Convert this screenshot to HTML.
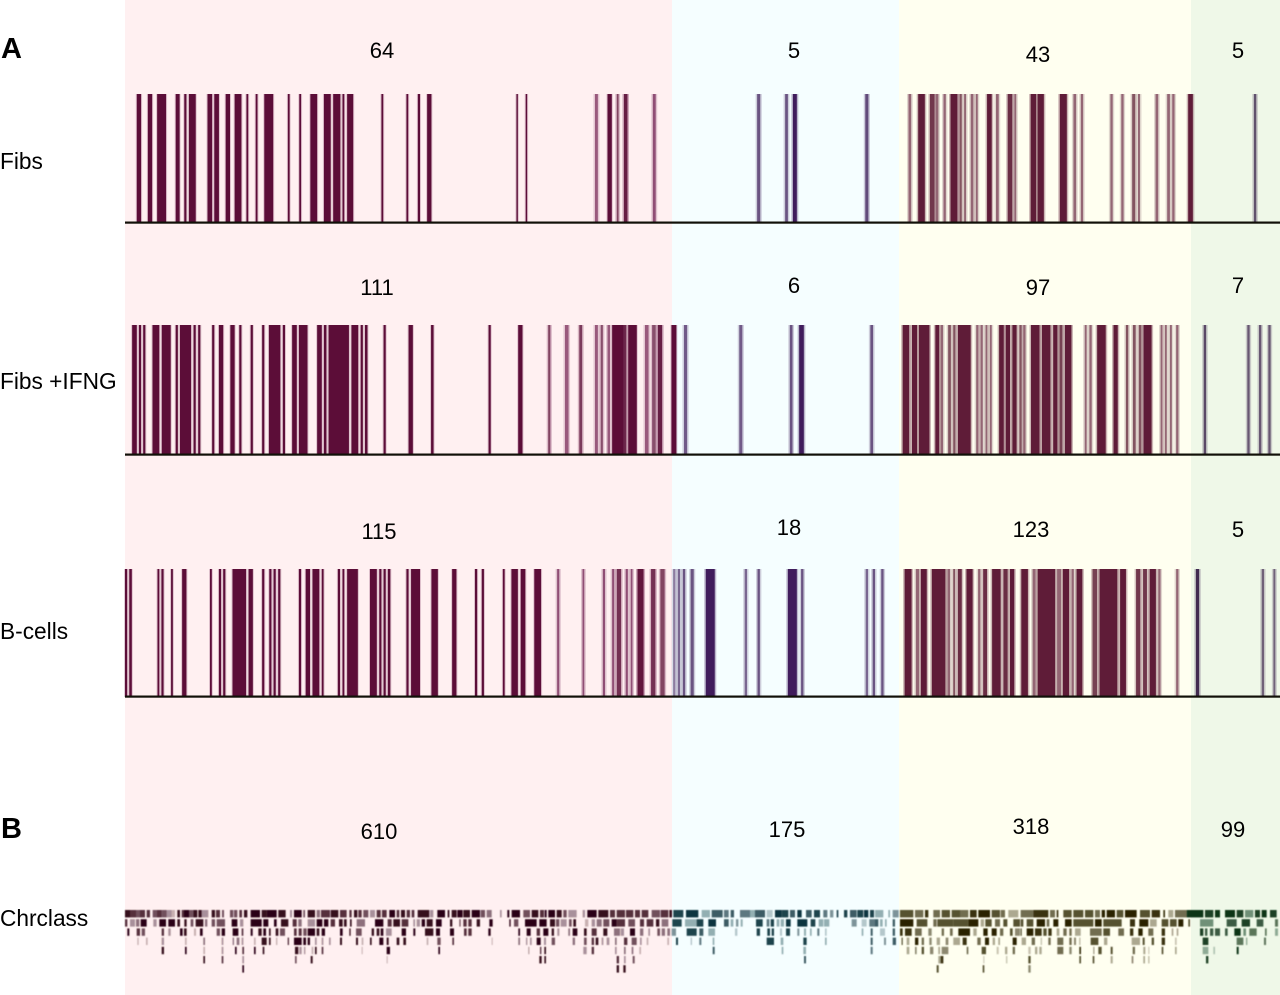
<!DOCTYPE html>
<html lang="en">
<head>
<meta charset="utf-8">
<title>Barcode tracks and chromosome class heat strip</title>
<style>
html,body{margin:0;padding:0;background:#fff;width:1280px;height:995px;overflow:hidden}
svg{display:block;font-family:"Liberation Sans",sans-serif;fill:#000}
.lab{font-size:22.7px}
.num{font-size:22px;text-anchor:middle}
.pan{font-size:29px;font-weight:bold}
</style>
</head>
<body>
<svg id="chart" xmlns="http://www.w3.org/2000/svg" width="1280" height="995" viewBox="0 0 1280 995">
  <defs>
    <filter id="soft" x="-2%" y="-2%" width="104%" height="104%"><feGaussianBlur stdDeviation="0.25 0"/></filter>
    <filter id="softer" x="-2%" y="-5%" width="104%" height="110%"><feGaussianBlur stdDeviation="0.55 0.4"/></filter>
  </defs>
  <g>
    <rect x="125" y="0" width="547" height="995" fill="#fff0f1"/>
    <rect x="672" y="0" width="227" height="995" fill="#f5feff"/>
    <rect x="899" y="0" width="292" height="995" fill="#fffff0"/>
    <rect x="1191" y="0" width="89" height="995" fill="#eff8e8"/>
  </g>
  <g id="tracks" filter="url(#soft)"></g>
  <g id="axes"></g>
  <g id="heat" filter="url(#softer)"></g>

  <text class="pan" x="1" y="58">A</text>
  <text class="pan" x="1" y="838">B</text>
  <text class="lab" x="0" y="169">Fibs</text>
  <text class="lab" x="0" y="389">Fibs +IFNG</text>
  <text class="lab" x="0" y="639">B-cells</text>
  <text class="lab" x="0" y="926">Chrclass</text>

  <g>
    <text class="num" x="382" y="58">64</text>
    <text class="num" x="794" y="58">5</text>
    <text class="num" x="1038" y="62">43</text>
    <text class="num" x="1238" y="58">5</text>
    <text class="num" x="377" y="295">111</text>
    <text class="num" x="794" y="293">6</text>
    <text class="num" x="1038" y="295">97</text>
    <text class="num" x="1238" y="293">7</text>
    <text class="num" x="379" y="539">115</text>
    <text class="num" x="789" y="535">18</text>
    <text class="num" x="1031" y="537">123</text>
    <text class="num" x="1238" y="537">5</text>
    <text class="num" x="379" y="839">610</text>
    <text class="num" x="787" y="837">175</text>
    <text class="num" x="1031" y="834">318</text>
    <text class="num" x="1233" y="837">99</text>
  </g>
</svg>
<script>
// Barcode values: [start, end, intensity?] along two chromosome-axis segments.
const fibsLeft = [[47,59],[78,90],[104,129],[156,167],[180,186],[193,212],[245,258],[264,277],[296,308],[321,340],[354,359],[380,385],[404,429],[470,475],[502,507],[533,552],[571,590],[597,617],[623,628],[636,653],[732,737],[802,807],[834,840],[860,872],[1110,1114],[1136,1140],[1330,1338,.55],[1365,1377],[1391,1396,.7],[1411,1421,.9],[1492,1500,.6]];
const fibsRight = [[224,232,.7],[296,303,.7],[316,326,1],[502,510,.75],[613,620,.6],[638,655],[668,680,.85],[683,690,.6],[703,709,.6],[721,739],[744,750,.7],[756,761,.6],[773,780,.6],[786,791,.6],[815,827],[838,845,.6],[868,880,.9],[885,890,.6],[927,941],[945,961],[1002,1020],[1037,1044,.6],[1056,1062,.6],[1132,1138,.6],[1160,1166,.6],[1188,1196,.7],[1203,1208,.6],[1248,1255,.6],[1278,1285,.6],[1291,1297,.6],[1332,1344],[1501,1507,.75]];
const ifngLeft = [[34,47],[53,59],[65,71],[91,110],[117,142],[156,162],[168,199],[206,212],[219,225],[258,264],[277,289],[309,321],[334,340],[366,372],[398,404],[417,449],[456,462],[482,495],[501,525],[552,565],[571,578],[584,641],[648,667],[674,680],[686,693],[738,744],[808,820],[871,878],[1032,1038],[1115,1127],[1199,1205,.7],[1246,1256,.55],[1286,1294,.75],[1330,1338,.55],[1346,1352,.65],[1365,1372,.55],[1378,1410],[1410,1418,.85],[1423,1447],[1470,1480,.55],[1490,1500,.65],[1506,1518,.9],[1544,1558]];
const ifngRight = [[36,44,.65],[178,186,.65],[308,315,.7],[332,344,1],[515,522,.7],[598,615],[622,635],[640,667],[682,692],[696,702,.6],[715,722,.7],[728,734,.7],[740,773],[787,793,.6],[798,804,.6],[811,816,.6],[822,827,.6],[846,858],[863,874],[880,891],[898,904,.7],[908,914,.6],[928,950],[956,978],[985,996],[1001,1009,.8],[1015,1032],[1066,1071,.6],[1078,1084,.6],[1098,1120],[1140,1151],[1172,1178,.7],[1190,1197,.7],[1205,1212,.7],[1217,1238],[1261,1266,.6],[1272,1277,.6],[1285,1290,.6],[1301,1307,.6],[1372,1378,.8],[1484,1490,.7],[1514,1520,.7],[1538,1544,.7]];
const bcellsLeft = [[14,20],[26,33],[105,110],[116,122],[143,148],[174,186],[252,257],[277,283],[289,295],[315,353],[360,372],[398,404],[418,424],[430,436],[443,449],[501,507],[520,532],[539,558],[565,570],[610,616],[623,628],[636,666],[700,719],[726,732],[738,744],[750,757],[802,808],[815,840],[872,890],[930,942],[994,1000],[1013,1019],[1072,1077],[1096,1114],[1122,1135],[1160,1179],[1224,1230,.6],[1295,1300,.6],[1352,1358,.6],[1378,1384,.6],[1391,1403,.8],[1416,1422,.6],[1430,1435,.6],[1449,1466,.95],[1487,1499,.8],[1513,1525,.7]];
const bcellsRight = [[8,14,.5],[20,26,.6],[33,39,.7],[53,61,.7],[92,115],[192,198,.6],[225,231,.7],[303,326],[337,343,.7],[503,509,.6],[521,527,.7],[543,549,.7],[603,621],[632,640,.6],[645,660],[673,708],[713,720,.6],[728,733,.7],[740,750,.9],[762,778],[792,798,.6],[805,815,.9],[828,850],[857,868,.9],[874,885],[903,920],[932,940,.6],[945,990],[995,1005,.6],[1010,1026],[1032,1038,.6],[1045,1060],[1086,1098,.8],[1104,1150],[1157,1172],[1198,1209,.85],[1216,1226,.85],[1233,1249],[1255,1261,.6],[1301,1307,.6],[1352,1360],[1521,1527,.65],[1551,1556,.65]];

// Heat strip values: for each of four windows, seven rows of [start, end, level 1-9].
const heatWindowA = [
 [[15,30,7],[30,48,6],[48,60,5],[60,75,6],[80,90,6],[98,110,5],[110,125,6],[125,140,5],[140,155,3],[155,165,2],[172,180,7],[185,192,6],[192,207,8],[207,220,5],[220,232,7],[235,245,7],[245,265,3],[275,285,7],[288,300,6],[306,312,5],[330,340,5],[342,352,5],[358,366,6],[372,382,7],[392,420,9],[425,440,7],[440,470,8],[475,497,7],[510,516,3],[522,545,8],[550,555,5],[563,585,7],[590,600,4],[603,630,6],[632,655,7],[660,680,6],[688,695,6],[702,712,7],[715,725,6],[730,745,5],[750,765,3],[770,782,6],[786,800,6],[808,825,8],[830,838,6],[843,855,7],[860,870,6],[875,883,6],[893,900,7]],
 [[15,22,6],[30,45,3],[48,58,4],[62,80,8],[100,110,3],[118,138,9],[145,165,8],[172,180,7],[193,200,7],[212,220,5],[227,250,7],[255,262,4],[275,285,5],[290,315,5],[335,352,8],[360,370,3],[392,425,9],[430,445,8],[462,470,8],[483,505,7],[518,530,6],[535,545,4],[563,585,3],[590,607,8],[612,625,9],[632,645,6],[657,668,7],[672,680,7],[690,695,7],[710,735,4],[765,790,9],[803,815,6],[820,840,7],[845,865,6],[880,885,3],[890,900,3]],
 [[22,28,8],[50,60,6],[65,75,5],[125,132,6],[145,152,3],[180,188,8],[192,200,7],[222,228,2],[240,248,8],[290,300,5],[305,315,8],[338,355,8],[365,370,6],[392,398,8],[415,425,7],[430,438,8],[447,452,7],[467,475,7],[480,495,5],[522,530,6],[536,545,6],[550,560,5],[563,585,8],[590,598,7],[605,615,8],[660,668,8],[688,692,7],[708,725,5],[755,762,7],[770,778,7],[782,790,8],[798,815,3],[845,858,8],[880,886,8]],
 [[52,56,2],[78,83,2],[125,132,3],[195,200,2],[250,255,4],[305,310,3],[338,342,4],[350,358,4],[365,370,3],[402,407,2],[425,440,7],[447,452,7],[468,472,2],[503,507,6],[522,545,9],[550,558,8],[563,570,8],[585,590,3],[605,610,3],[627,632,3],[660,666,7],[708,714,7],[725,730,2],[750,755,7],[778,790,8],[800,806,7],[830,838,7],[850,858,7]],
 [[125,132,7],[195,200,8],[250,255,2],[305,310,3],[345,350,8],[367,372,6],[402,407,8],[428,433,7],[525,535,7],[538,545,3],[552,556,3],[575,580,2],[585,590,7],[605,610,6],[725,728,2],[800,810,9]],
 [[250,255,7],[305,310,6],[367,372,3],[525,530,5],[572,578,7],[800,803,2]],
 [[367,372,9]]
];
const heatWindowB = [
 [[0,15,7],[15,28,7],[30,40,3],[52,75,9],[83,88,8],[95,110,7],[112,128,8],[130,150,7],[155,180,8],[182,195,5],[200,215,4],[240,245,3],[262,268,8],[275,300,9],[310,330,5],[335,355,7],[360,372,6],[374,380,8],[385,405,8],[410,425,7],[430,440,5],[445,470,3],[488,495,3],[502,530,8],[535,565,7],[570,585,6],[590,615,6],[618,640,6],[645,660,6],[665,685,6],[695,720,5],[722,745,6],[748,756,7],[760,790,7],[798,835,8],[845,870,3],[875,900,6]],
 [[5,15,8],[20,38,7],[48,65,8],[90,97,7],[118,122,5],[130,140,6],[145,155,6],[170,180,7],[208,218,8],[268,272,8],[282,295,5],[315,330,8],[330,350,9],[358,380,9],[390,405,7],[408,418,5],[422,440,3],[447,455,5],[460,468,7],[495,505,2],[515,525,3],[530,545,4],[550,568,5],[575,590,8],[590,615,6],[625,645,5],[660,672,6],[680,700,6],[708,718,7],[725,745,4],[757,785,7],[795,830,3],[830,850,7],[865,888,8]],
 [[15,40,7],[48,60,9],[90,102,8],[132,140,6],[145,155,6],[205,212,9],[295,300,8],[320,332,8],[350,360,6],[370,385,9],[395,402,7],[412,418,3],[445,450,4],[458,472,8],[492,500,7],[515,530,6],[550,562,7],[582,600,4],[602,612,3],[630,645,8],[660,670,4],[685,690,3],[712,720,5],[725,735,4],[742,750,4],[755,768,4],[800,830,7],[838,850,6],[865,885,3]],
 [[20,25,2],[52,62,5],[97,102,6],[215,218,2],[295,300,4],[318,322,3],[330,335,3],[350,362,9],[372,378,3],[395,405,5],[458,465,4],[492,500,5],[515,522,6],[527,535,7],[545,550,3],[560,568,3],[585,590,4],[612,622,6],[635,650,5],[660,665,3],[680,685,2],[742,747,2],[768,774,7],[812,816,2],[838,844,5],[878,883,3]],
 [[55,60,9],[325,328,3],[360,364,6],[373,378,7],[490,500,3],[515,522,6],[585,590,3],[612,617,4],[635,640,4],[658,663,2],[878,884,6]],
 [[358,365,7],[373,378,7],[590,597,6],[612,617,3],[638,644,5]],
 [[590,597,7],[610,617,7]]
];
const heatWindowC = [
 [[0,8,6],[12,26,5],[32,42,6],[60,90,5],[90,105,3],[105,135,6],[140,158,2],[165,185,8],[185,205,7],[210,225,6],[232,245,8],[258,275,6],[282,300,7],[310,322,5],[330,340,4],[350,355,7],[372,382,7],[390,410,6],[412,430,7],[432,445,8],[450,462,7],[465,490,3],[505,510,3],[518,536,4],[540,580,6],[585,610,5],[615,625,7],[640,660,5],[665,690,6],[695,720,6],[720,745,5],[750,770,7],[775,810,8],[815,840,6],[842,855,5],[865,895,3]],
 [[12,26,6],[32,40,3],[48,55,4],[62,68,3],[108,128,7],[140,148,5],[152,162,7],[170,178,3],[182,192,3],[198,212,8],[232,262,9],[272,286,7],[296,310,3],[312,328,3],[395,410,4],[425,440,2],[448,465,5],[465,475,6],[480,488,3],[495,500,3],[518,525,6],[540,580,8],[590,622,6],[640,650,5],[652,700,6],[700,745,6],[745,775,9],[782,792,3],[796,815,6],[825,840,5],[850,862,6],[880,900,6]],
 [[45,52,2],[110,120,7],[142,150,7],[155,162,7],[180,186,2],[198,210,7],[232,238,4],[252,258,3],[270,275,3],[292,298,5],[315,320,2],[425,430,3],[452,458,6],[480,495,2],[518,525,6],[540,548,7],[555,575,7],[585,605,5],[625,635,4],[665,672,5],[690,698,5],[715,750,8],[760,770,3],[790,803,8],[815,830,8],[840,850,5],[870,878,6],[885,900,4]],
 [[140,162,7],[182,190,3],[250,260,7],[315,320,3],[452,458,6],[492,498,4],[518,528,6],[545,548,7],[560,568,3],[585,595,8],[605,612,5],[628,635,4],[650,660,3],[677,685,4],[700,720,3],[728,740,7],[772,782,5],[795,807,8],[818,825,3],[835,840,3],[878,890,8]],
 [[185,190,3],[250,258,3],[452,458,5],[560,568,3],[585,590,4],[605,612,6],[630,640,4],[655,660,3],[665,685,4],[740,745,5],[785,798,6],[830,836,2],[855,862,3],[878,885,5]],
 [[252,258,6],[662,670,7],[655,662,3],[790,793,2],[858,862,2]],
 [[650,656,6],[788,793,6]]
];
const heatWindowD = [
 [[62,100,5],[100,145,7],[150,165,5],[170,175,7],[190,215,6],[220,250,6],[255,280,6],[285,300,5],[305,315,8],[320,345,8],[350,370,6],[375,410,8],[420,450,6],[455,480,7],[490,495,7],[505,520,3],[525,560,5],[560,610,8],[615,640,7],[645,660,8],[675,705,8],[710,730,7],[735,760,4],[765,780,7],[785,800,8],[810,830,7]],
 [[62,70,6],[80,100,6],[110,135,9],[140,148,5],[160,175,8],[195,215,8],[220,280,6],[285,305,9],[310,365,6],[390,405,7],[418,445,8],[450,470,3],[485,505,6],[510,530,6],[535,550,8],[565,570,6],[600,640,4],[680,710,6],[725,750,7],[770,790,6],[825,834,5]],
 [[62,65,7],[80,100,8],[105,125,7],[130,140,6],[145,155,7],[170,178,3],[190,200,5],[208,215,5],[225,242,3],[270,305,5],[310,330,6],[355,372,5],[390,400,7],[415,428,8],[445,460,5],[485,495,7],[515,520,3],[530,535,3],[600,610,7],[615,622,6],[630,640,6],[645,660,6],[675,683,6],[703,722,9],[730,738,4],[748,770,5],[795,800,5],[825,834,3]],
 [[65,78,3],[95,105,5],[122,126,2],[145,152,5],[172,190,5],[208,215,5],[222,228,4],[238,241,3],[272,295,6],[312,322,3],[395,420,3],[428,434,6],[455,462,6],[485,495,7],[525,530,2],[608,625,7],[710,730,5],[738,742,3],[792,798,5]],
 [[85,92,2],[105,112,3],[118,125,3],[172,190,5],[208,215,4],[238,243,7],[280,283,4],[295,305,6],[332,338,6],[398,405,5],[430,436,3],[445,448,2],[485,490,6],[525,530,3],[608,625,3],[640,645,2],[710,716,8]],
 [[85,92,6],[238,243,6],[278,283,6],[332,338,3],[395,400,4],[430,435,3],[445,448,3],[618,625,7]],
 [[85,92,4]]
];

const NS = 'http://www.w3.org/2000/svg';
function linear(d0, d1, r0, r1) { return function (v) { return r0 + (v - d0) * (r1 - r0) / (d1 - d0); }; }
const xLeft = linear(0, 1568, 120, 680);
const xRight = linear(0, 1568, 670, 1280);
const heatRowY = linear(0, 7, 910, 974.4);
const heatRowHeight = 7.4;
const barPalette = ['#5c0a38', '#3f1f5c', '#5f1f38', '#3f2a50'];
const heatPalette = ['#2a0612', '#0e3640', '#2c2404', '#0c3416'];
function zone(px) { return px < 672 ? 0 : px < 899 ? 1 : px < 1191 ? 2 : 3; }
function rect(parent, x, y, w, h, fill, op) {
  const r = document.createElementNS(NS, 'rect');
  r.setAttribute('x', x.toFixed(2));
  r.setAttribute('y', y.toFixed(2));
  r.setAttribute('width', Math.max(w, .5).toFixed(2));
  r.setAttribute('height', h.toFixed(2));
  r.setAttribute('fill', fill);
  if (op < 1) r.setAttribute('fill-opacity', op.toFixed(3));
  parent.appendChild(r);
  return r;
}
function drawBars(group, list, scale, top, base) {
  list.forEach(function (b) {
    const x0 = scale(b[0]);
    const x1 = scale(b[1]);
    const strength = b.length > 2 ? b[2] : 1;
    const c = barPalette[zone(x0)];
    const pad = zone(x0) === 0 && strength === 1 ? 1 : 1.5;
    const halo = rect(group, x0 - pad, top, x1 - x0 + 2 * pad, base - top, c, (zone(x0) === 0 && strength === 1 ? .2 : .32) * strength);
    
    
    const bar = rect(group, x0, top, x1 - x0, base - top, c, strength);
    
    
  });
}
function track(name, leftData, rightData, top, base) {
  const g = document.createElementNS(NS, 'g');
  
  
  document.getElementById('tracks').appendChild(g);
  drawBars(g, leftData, xLeft, top, base);
  drawBars(g, rightData, xRight, top, base);
  const line = rect(document.getElementById('axes'), 125, base - 1.5, 1155, 2.2, '#111008', 1);
  
  
}
track('fibs-track', fibsLeft, fibsRight, 94, 223);
track('fibs-ifng-track', ifngLeft, ifngRight, 325, 455);
track('b-cells-track', bcellsLeft, bcellsRight, 569, 697);

function drawHeat(rows, scale) {
  const g = document.getElementById('heat');
  rows.forEach(function (row, i) {
    row.forEach(function (cell) {
      const x0 = scale(cell[0]);
      const x1 = scale(cell[1]);
      const c = heatPalette[zone((x0 + x1) / 2)];
      const mark = rect(g, x0, heatRowY(i), x1 - x0, heatRowHeight, c, Math.min(1, cell[2] / 7.5));
      
      
    });
  });
}
drawHeat(heatWindowA, linear(0, 900, 120, 420));
drawHeat(heatWindowB, linear(0, 900, 420, 720));
drawHeat(heatWindowC, linear(0, 900, 720, 1020));
drawHeat(heatWindowD, linear(0, 840, 1000, 1280));
</script>
</body>
</html>
